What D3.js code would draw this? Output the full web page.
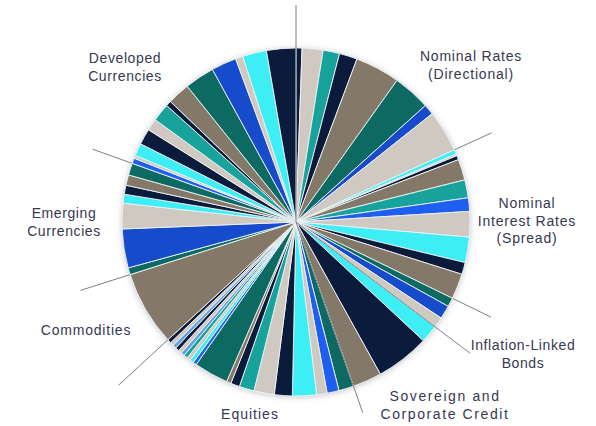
<!DOCTYPE html>
<html>
<head>
<meta charset="utf-8">
<script src="https://cdn.jsdelivr.net/npm/d3@7"></script>
<style>
  html, body { margin: 0; padding: 0; background: #ffffff; }
  svg { display: block; }
  text { font-family: "Liberation Sans", Arial, sans-serif; fill: #363852; }
</style>
</head>
<body>
<svg id="chart" width="596" height="426"></svg>
<script>
// ---------------- DATA ----------------
const categories = [
  "Nominal Rates (Directional)",
  "Nominal Interest Rates (Spread)",
  "Inflation-Linked Bonds",
  "Sovereign and Corporate Credit",
  "Equities",
  "Commodities",
  "Emerging Currencies",
  "Developed Currencies"
];

// slice values (share of risk) within each category, clockwise from 12 o'clock
const nominalDirectionalValues = [2, 7, 5.5, 6, 15, 12.5, 3.5, 14];
const nominalSpreadValues      = [1.5, 0.6, 1.4, 7, 6, 4.5, 8.5, 8.5, 4, 8.5];
const inflationLinkedValues    = [3, 4.5, 3.5];
const creditValues             = [6, 18, 9.7];
const equitiesValues           = [5, 4, 3.5, 8, 6, 6.8, 5, 3, 1.5, 11.5,
                                  1.2, 1.3, 1.2, 1.3, 1.2, 1.2, 1.3, 1.2, 1.2, 1.3];
const commoditiesValues        = [25];
const emergingValues           = [2.3, 13, 8.5, 3, 3, 3.5, 4];
const developedValues          = [1.8, 1, 4.2, 5.3, 4, 6, 1.8, 7.5, 10, 8.4, 2.5, 8, 9.8];

// tone (series identity) of each slice
const nominalDirectionalTones = ["navy","beige","teal","navy","brown","darkteal","blue","beige"];
const nominalSpreadTones      = ["cyan","beige","navy","brown","teal","bblue","beige","cyan","navy","brown"];
const inflationLinkedTones    = ["darkteal","blue","beige"];
const creditTones             = ["cyan","navy","brown"];
const equitiesTones           = ["darkteal","bblue","beige","cyan","navy","beige","teal","navy","brown","darkteal",
                                 "bblue","cyan","beige","teal","lblue","beige","navy","lblue","beige","navy"];
const commoditiesTones        = ["brown"];
const emergingTones           = ["darkteal","blue","beige","cyan","navy","brown","darkteal"];
const developedTones          = ["bblue","beige","cyan","navy","beige","teal","navy","brown","darkteal","blue","beige","cyan","navy"];

const categoryValues = [nominalDirectionalValues, nominalSpreadValues, inflationLinkedValues, creditValues,
                        equitiesValues, commoditiesValues, emergingValues, developedValues];
const categoryTones  = [nominalDirectionalTones, nominalSpreadTones, inflationLinkedTones, creditTones,
                        equitiesTones, commoditiesTones, emergingTones, developedTones];

// ---------------- STYLE / LAYOUT ----------------
const palette = {
  navy: "#0a1b3b",
  beige: "#cfc9c1",
  teal: "#17a29b",
  darkteal: "#0c6a62",
  cyan: "#3eeef5",
  brown: "#847969",
  blue: "#164bcc",
  bblue: "#1f5ff0",
  lblue: "#5e9fe6"
};

const cx = 296, cy = 222, R = 174;

// label layout (category order), lines of text
const labelLayout = [
  { lines: ["Nominal Rates", "(Directional)"], x: 471, y: 61, ls: 0.8 },
  { lines: ["Nominal", "Interest Rates", "(Spread)"], x: 527, y: 208, ls: 0.8 },
  { lines: ["Inflation-Linked", "Bonds"], x: 523, y: 350, ls: 0.6 },
  { lines: ["Sovereign and", "Corporate Credit"], x: 445, y: 401, ls: 1.6 },
  { lines: ["Equities"], x: 250, y: 419, ls: 1 },
  { lines: ["Commodities"], x: 86, y: 335, ls: 0.8 },
  { lines: ["Emerging", "Currencies"], x: 64, y: 218, ls: 0.6 },
  { lines: ["Developed", "Currencies"], x: 125, y: 63, ls: 0.6 }
];
// separator line at the START of each category: length and whether drawn over the pie
const separatorLength = [217, 215, 217, 218, 202, 241, 226, 216];
const separatorOnTop  = [true, false, false, true, true, false, false, false];

// ---------------- BUILD ----------------
const slices = [];
categoryValues.forEach((vals, ci) => {
  vals.forEach((v, i) => slices.push({ cat: ci, value: v, tone: categoryTones[ci][i] }));
});

const svg = d3.select("#chart");
const defs = svg.append("defs");
const f = defs.append("filter").attr("id", "shadow").attr("x", "-20%").attr("y", "-20%")
  .attr("width", "140%").attr("height", "140%");
f.append("feDropShadow").attr("dx", 0).attr("dy", 1).attr("stdDeviation", 3)
  .attr("flood-color", "#8a8f96").attr("flood-opacity", 0.55);

const g = svg.append("g").attr("transform", `translate(${cx},${cy})`);

const pie = d3.pie().value(d => d.value).sort(null).startAngle(0).endAngle(2 * Math.PI);
const arcs = pie(slices);
const arc = d3.arc().innerRadius(0).outerRadius(R);

// category boundaries from the pie layout
const catStart = categories.map((c, ci) => arcs.find(a => a.data.cat === ci).startAngle);
const seps = catStart.map((a, i) => ({ a, len: separatorLength[i], top: separatorOnTop[i] }));

function drawSeps(sel) {
  sel.attr("x1", 0).attr("y1", 0)
    .attr("x2", d => d.len * Math.sin(d.a))
    .attr("y2", d => -d.len * Math.cos(d.a))
    .attr("stroke", "#7b7f88")
    .attr("stroke-width", 1);
}

g.selectAll("line.sepUnder").data(seps.filter(d => !d.top)).join("line")
  .attr("class", "sepUnder").call(drawSeps);

// shadow disc
g.append("circle").attr("r", R).attr("fill", "#ffffff").attr("filter", "url(#shadow)");

g.selectAll("path.slice").data(arcs).join("path")
  .attr("class", "slice")
  .attr("d", arc)
  .attr("fill", d => palette[d.data.tone])
  .attr("stroke", "#eef3f5")
  .attr("stroke-width", 0.9)
  .attr("stroke-linejoin", "round");

g.selectAll("line.sepOver").data(seps.filter(d => d.top)).join("line")
  .attr("class", "sepOver").call(drawSeps);

// labels
const lab = svg.selectAll("text.lab").data(labelLayout).join("text")
  .attr("class", "lab")
  .attr("text-anchor", "middle")
  .attr("font-size", 14)
  .attr("letter-spacing", d => d.ls);
lab.selectAll("tspan").data(d => d.lines.map((t, i) => ({ t, i, x: d.x, y: d.y }))).join("tspan")
  .attr("x", d => d.x)
  .attr("y", d => d.y + d.i * 17.5)
  .text(d => d.t);
</script>
</body>
</html>
